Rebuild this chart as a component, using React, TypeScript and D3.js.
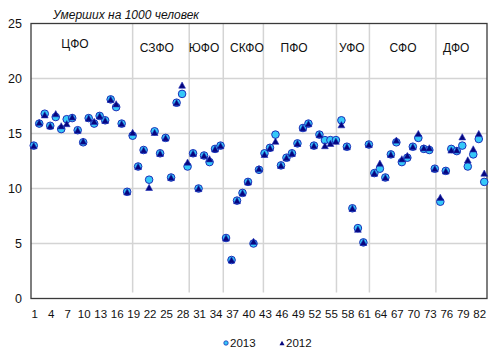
import React from "react";
import * as d3 from "d3";

const categories: number[] = Array.from({ length: 83 }, (_, i) => i + 1);

const deaths2013: number[] = [
  13.9, 15.9, 16.8, 15.7, 16.5, 15.4, 16.3, 16.4, 15.3, 14.2,
  16.4, 15.9, 16.6, 16.2, 18.1, 17.4, 15.9, 9.7, 14.8, 12.0,
  13.5, 10.8, 15.2, 13.2, 14.6, 11.0, 17.8, 18.6, 12.0, 13.2,
  10.0, 13.0, 12.4, 13.6, 13.9, 5.5, 3.5, 8.9, 9.6, 10.6,
  5.0, 11.7, 13.2, 13.7, 14.9, 12.1, 12.8, 13.2, 14.1, 15.5,
  15.9, 13.9, 14.9, 14.4, 14.4, 14.4, 16.2, 13.8, 8.2, 6.4,
  5.1, 14.0, 11.4, 11.8, 11.0, 13.1, 14.2, 12.4, 12.8, 13.8,
  14.6, 13.6, 13.5, 11.8, 8.8, 11.6, 13.6, 13.4, 13.9, 12.0,
  13.1, 14.5, 10.6,
];

const deaths2012: number[] = [
  13.9, 16.0, 16.7, 15.7, 16.8, 15.7, 15.9, 16.5, 15.3, 14.3,
  16.4, 16.1, 16.6, 16.2, 18.1, 17.7, 15.9, 9.7, 15.1, 12.0,
  13.5, 10.1, 15.1, 13.2, 14.6, 11.0, 17.8, 19.4, 12.4, 13.2,
  10.0, 13.0, 12.7, 13.6, 13.9, 5.5, 3.5, 8.9, 9.6, 10.6,
  5.2, 11.8, 13.1, 13.7, 14.3, 12.1, 12.8, 13.2, 14.1, 15.5,
  15.9, 13.9, 14.9, 13.9, 14.1, 14.3, 15.8, 13.8, 8.2, 6.3,
  5.1, 14.0, 11.4, 12.3, 11.0, 13.1, 14.4, 12.7, 13.0, 13.8,
  15.0, 13.7, 13.7, 11.8, 9.2, 11.6, 13.5, 13.5, 14.7, 12.6,
  13.6, 15.0, 11.4,
];

const districtNames: string[] = ["ЦФО", "СЗФО", "ЮФО", "СКФО", "ПФО", "УФО", "СФО", "ДФО"];
const districtSizes: number[] = [18, 11, 6, 7, 14, 6, 12, 9];

const yTicks: number[] = [0, 5, 10, 15, 20, 25];
const xTickLabels: number[] = categories.filter((c) => (c - 1) % 3 === 0);
const seriesNames: string[] = ["2013", "2012"];

// layout (in category units along the x axis, as drawn in the source picture)
const SPLIT_AT = [18.5, 28.8, 35.0, 42.3, 55.6, 61.6, 73.7];
const LABEL_AT = [8.0, 22.9, 31.5, 39.3, 47.9, 58.4, 67.7, 77.4];

const W = 500;
const H = 362;
const M = { left: 31, right: 487, top: 23.5, bottom: 298.5 };

const FONT = "Arial, 'Liberation Sans', Helvetica, sans-serif";
const CIRCLE_FILL = "#35c8f8";
const CIRCLE_STROKE = "#1c2fb8";
const TRI_FILL = "#06067e";
const TRI_STROKE = "#2233bb";

function triPath(a: number, h: number): string {
  return `M0,${-h / 2}L${a / 2},${h / 2}L${-a / 2},${h / 2}Z`;
}

export default function App() {
  const x = d3
    .scaleBand<number>()
    .domain(categories)
    .range([M.left, M.right])
    .padding(0);
  const bw = x.bandwidth();
  const cx = (c: number) => (x(c) as number) + bw / 2;
  const y = d3.scaleLinear().domain([0, 25]).range([M.bottom, M.top]);
  const ux = d3.scaleLinear().domain([0, categories.length]).range([M.left, M.right]);

  const triangle = triPath(6.8, 6.2);

  return (
    <svg
      width={W}
      height={H}
      style={{ position: "absolute", left: 0, top: 0, background: "#fff" }}
      fontFamily={FONT}
    >
      <rect x={0} y={0} width={W} height={H} fill="#fff" />
      {yTicks
        .filter((t) => t > 0 && t < 25)
        .map((t) => (
          <line
            key={"g" + t}
            x1={M.left}
            x2={M.right}
            y1={y(t)}
            y2={y(t)}
            stroke="#d4d4d4"
            strokeWidth={1.5}
          />
        ))}
      {SPLIT_AT.slice(0, districtSizes.length - 1).map((k, i) => (
        <line
          key={"s" + i}
          x1={ux(k)}
          x2={ux(k)}
          y1={M.top}
          y2={M.bottom - 6}
          stroke="#d4d4d4"
          strokeWidth={1.5}
        />
      ))}
      <rect
        x={M.left}
        y={M.top}
        width={M.right - M.left}
        height={M.bottom - M.top}
        fill="none"
        stroke="#3a3a3a"
        strokeWidth={1.3}
      />
      {yTicks.map((t) => (
        <text
          key={"y" + t}
          x={22}
          y={y(t) + 4.5}
          textAnchor="end"
          fontSize={12.5}
          fill="#111"
        >
          {t}
        </text>
      ))}
      {xTickLabels.map((c) => (
        <text
          key={"x" + c}
          x={cx(c) + 1}
          y={317.5}
          textAnchor="middle"
          fontSize={11.5}
          fill="#111"
        >
          {c}
        </text>
      ))}
      <text x={53} y={19} fontSize={12} fontStyle="italic" fill="#111">
        Умерших на 1000 человек
      </text>
      {districtNames.map((n, i) => (
        <text
          key={n}
          x={ux(LABEL_AT[i])}
          y={i === 0 ? 48 : 52}
          textAnchor="middle"
          fontSize={12}
          fill="#111"
        >
          {n}
        </text>
      ))}
      {categories.map((c, i) => (
        <circle
          key={"c" + c}
          cx={cx(c)}
          cy={y(deaths2013[i])}
          r={3.8}
          fill={CIRCLE_FILL}
          stroke={CIRCLE_STROKE}
          strokeWidth={1}
        />
      ))}
      {categories.map((c, i) => (
        <path
          key={"t" + c}
          d={triangle}
          transform={`translate(${cx(c)},${y(deaths2012[i])})`}
          fill={TRI_FILL}
          stroke={TRI_STROKE}
          strokeWidth={0.6}
        />
      ))}
      <g>
        <circle cx={226} cy={343} r={2.2} fill={CIRCLE_FILL} stroke={CIRCLE_STROKE} strokeWidth={0.8} />
        <text x={230} y={347} fontSize={11.5} fill="#111">
          {seriesNames[0]}
        </text>
        <path d={triPath(5, 4.5)} transform="translate(282,343)" fill={TRI_FILL} />
        <text x={286} y={347} fontSize={11.5} fill="#111">
          {seriesNames[1]}
        </text>
      </g>
    </svg>
  );
}
